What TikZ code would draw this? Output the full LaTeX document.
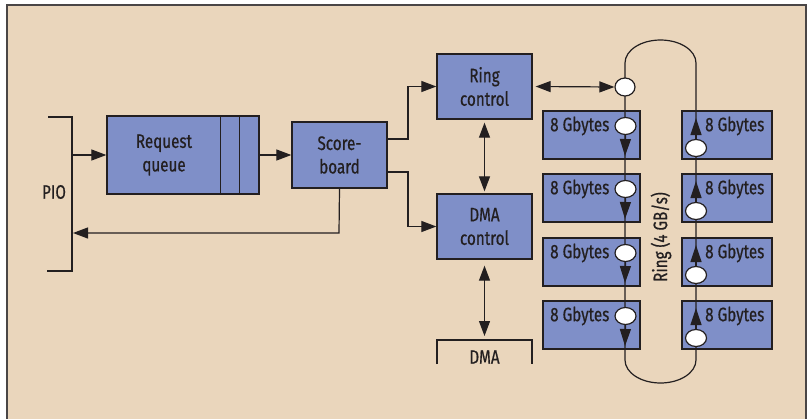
\documentclass[tikz,border=0pt]{standalone}
\usepackage{fontspec}
\setmainfont{Fira Sans}[FakeStretch=0.78,FakeBold=0.6]
\usetikzlibrary{arrows.meta,shapes.geometric}
\definecolor{paper}{HTML}{EAD6BC}
\definecolor{boxblue}{HTML}{7F8FC8}
\definecolor{ink}{HTML}{231F20}
\definecolor{frameline}{HTML}{4A4646}
\begin{document}
\begin{tikzpicture}[x=1pt,y=-1pt,
  font=\fontsize{19.5}{23.5}\selectfont,
  unit/.style={draw=ink, line width=1.3pt, fill=boxblue, inner sep=0pt, align=center, text=ink},
  wire/.style={draw=ink, line width=1.2pt},
  arr/.style={wire, -{Triangle[length=15pt,width=11pt]}},
  darr/.style={wire, {Triangle[length=15pt,width=11pt]}-{Triangle[length=15pt,width=11pt]}},
  ringarr/.style={wire, -{Triangle[length=17pt,width=11pt]}},
  tap/.style={draw=ink, line width=1.2pt, fill=white, ellipse, minimum width=21pt, minimum height=17pt, inner sep=0pt},
  memlabel/.style={anchor=west, inner sep=0pt, text=ink},
  lbl/.style={inner sep=0pt, text=ink, align=center}
]
\useasboundingbox (0,0) rectangle (809,418);
% backdrop and frame
\fill[white] (0,0) rectangle (809,418);
\fill[paper] (7,5) rectangle (806,420);
\draw[frameline, line width=2pt] (7,420) -- (7,5) -- (806,5) -- (806,420);

% PIO bracket
\coordinate (pioA) at (48,117);
\coordinate (pioB) at (72,117);
\coordinate (pioC) at (72,271);
\coordinate (pioD) at (47,271);
\draw[wire] (pioA) -- (pioB) -- (pioC) -- (pioD);
\node[lbl] (pio) at (54,192) {PIO};

% request queue with two extra slots
\node[unit, minimum width=152pt, minimum height=78pt] (rq) at (183,155) {};
\draw[wire, line width=1.3pt] ([xshift=114pt]rq.north west) -- ([xshift=114pt]rq.south west);
\draw[wire, line width=1.3pt] ([xshift=133pt]rq.north west) -- ([xshift=133pt]rq.south west);
\node[lbl] (rqtext) at (164,155) {Request\\queue};

% scoreboard, ring control, DMA control
\node[unit, minimum width=95pt, minimum height=66pt] (sb) at (339.5,155) {Score-\\board};
\node[unit, minimum width=95pt, minimum height=65pt] (rc) at (484.5,86.5) {Ring\\control};
\node[unit, minimum width=95pt, minimum height=65pt] (dc) at (484.5,226.5) {DMA\\control};

% connectors
\coordinate (pioIn) at (72,155);
\draw[arr] (pioIn) -- (rq.west);
\draw[arr] (rq.east) -- (sb.west);
\draw[arr] (sb.east |- 0,139) -- (408,139) -- (408,86.5) -- (rc.west);
\draw[arr] (sb.east |- 0,172) -- (408,172) -- (408,226.5) -- (dc.west);
\coordinate (pioOut) at (73,233);
\draw[arr] (sb.south) -- (339,233) -- (pioOut);
\draw[darr] ([yshift=-3pt]rc.south) -- ([yshift=2pt]dc.north);

% DMA bracket
\coordinate (dmaA) at (437,364);
\coordinate (dmaB) at (437,340);
\coordinate (dmaC) at (532,340);
\coordinate (dmaD) at (532,364);
\draw[wire] (dmaA) -- (dmaB) -- (dmaC) -- (dmaD);
\node[lbl] (dma) at (484.5,357) {DMA};
\coordinate (dmaTop) at (484.5,336);
\draw[darr] ([yshift=-6pt]dc.south) -- (dmaTop);

% memory banks
\foreach \i/\t in {1/111,2/174,3/238,4/301}{
  \node[unit, minimum width=97pt, minimum height=48pt] (L\i) at (591.5,\t+24) {};
  \node[unit, minimum width=90pt, minimum height=48pt] (R\i) at (727,\t+24) {};
}

% ring
\coordinate (ringTL) at (625,63);
\coordinate (ringBR) at (696,360);
\draw[wire] (625,87) -- (ringTL) arc[start angle=180, end angle=0, x radius=35.5pt, y radius=23pt]
  -- (ringBR) arc[start angle=0, end angle=-180, x radius=35.5pt, y radius=23pt] -- (625,87);
\node[tap, minimum height=18pt, minimum width=20pt] (top) at (625,87) {};
\draw[darr] ([xshift=3pt]rc.east) -- (top.west);

\foreach \i/\t in {1/111,2/174,3/238,4/301}{
  \node[memlabel] (Lt\i) at (550,\t+15) {8 Gbytes};
  \node[tap] (Lc\i) at (625.5,\t+15) {};
  \coordinate (Lh\i) at (625,\t+45);
  \draw[ringarr] (Lc\i.south) -- (Lh\i);
  \node[memlabel] (Rt\i) at (705,\t+15) {8 Gbytes};
  \node[tap] (Rc\i) at (696,\t+37) {};
  \coordinate (Rh\i) at (696,\t+7);
  \draw[ringarr] (Rc\i.north) -- (Rh\i);
}
\node[lbl, rotate=90] (ringlbl) at (661,237) {Ring (4 GB/s)};
\end{tikzpicture}
\end{document}
